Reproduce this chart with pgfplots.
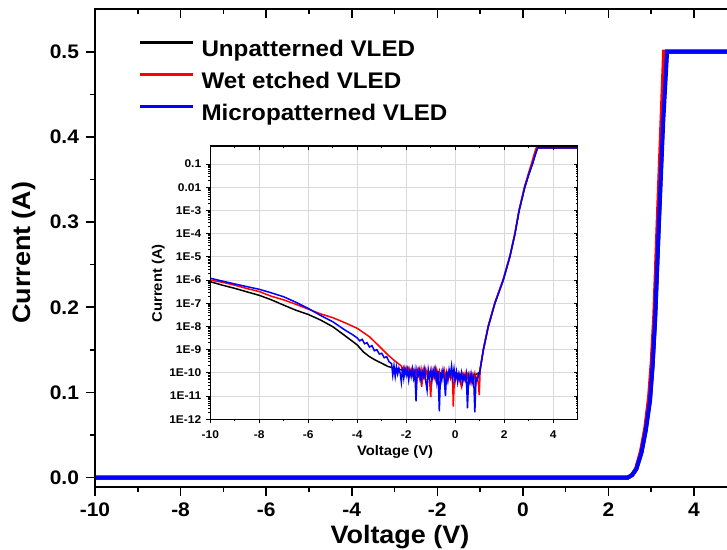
\documentclass[border=0pt]{standalone}
\usepackage{fontspec}
\setmainfont{Liberation Sans}[FakeStretch=1.07]
\usepackage{pgfplots}
\pgfplotsset{compat=1.18}
\newcommand\tickfont{\fontsize{9.8}{11}\selectfont\bfseries}
\newcommand\labfont{\fontsize{12.6}{14}\selectfont\bfseries}
\newcommand\legfont{\fontsize{11.3}{13}\selectfont\bfseries}
\newcommand\itick{\fontsize{5.6}{7}\selectfont\bfseries}
\newcommand\ilab{\fontsize{6.9}{8}\selectfont\bfseries}
\begin{document}
\begin{tikzpicture}
\useasboundingbox (-47.5pt,-31.65pt) rectangle (316pt,243.35pt);
% main I-V plot (linear)
\begin{axis}[
  scale only axis, width=317pt, height=238.7pt,
  xmin=-10, xmax=4.817, ymin=-0.0106, ymax=0.5498,
  xtick={-10,-8,-6,-4,-2,0,2,4}, minor x tick num=1,
  ytick={0,0.1,0.2,0.3,0.4,0.5}, minor y tick num=1,
  xtick pos=left, ytick pos=left, tick align=outside,
  major tick length=4.5pt, minor tick length=2.5pt,
  axis line style={line width=1pt},
  every tick/.style={line width=0.8pt, black},
  /pgf/number format/assume math mode=true,
  tick label style={font=\tickfont},
  yticklabel style={/pgf/number format/.cd, fixed, fixed zerofill, precision=1},
  xlabel={Voltage (V)}, ylabel={Current (A)},
  label style={font=\labfont},
  xlabel style={at={(axis description cs:0.481,-0.1047)}, anchor=center},
  ylabel style={at={(axis description cs:-0.1128,0.49)}, anchor=center},
  legend cell align=left,
  legend image code/.code={\draw[#1, line width=1.5pt] (0pt,4pt) -- (26.5pt,4pt);},
  legend style={at={(axis description cs:0.068,0.936)}, anchor=north west,
    draw=none, fill=none, inner sep=0pt, row sep=5.5pt,
    font=\legfont,
    nodes={inner sep=0pt, text height=8.2pt, text depth=2.3pt},
    /tikz/every odd column/.append style={column sep=3.5pt}},
]
\addplot[black, line width=2pt] coordinates {
  (-10,0) (2.45,0) (2.55,0.003) (2.65,0.01) (2.77,0.03) (2.87,0.056)
  (2.97,0.092) (3.03,0.132) (3.09,0.187) (3.18,0.302) (3.27,0.42)
  (3.36,0.5) (5,0.5)};
\addlegendentry{Unpatterned VLED}
\addplot[red, line width=2pt] coordinates {
  (-10,0) (2.45,0) (2.55,0.003) (2.65,0.011) (2.76,0.031) (2.86,0.058)
  (2.95,0.095) (3.01,0.135) (3.07,0.19) (3.15,0.30) (3.24,0.42)
  (3.30,0.5) (5,0.5)};
\addlegendentry{Wet etched VLED}
\addplot[blue, line width=2pt] coordinates {
  (-10,0) (2.45,0) (2.55,0.003) (2.65,0.01) (2.77,0.029) (2.87,0.055)
  (2.97,0.09) (3.03,0.13) (3.09,0.185) (3.18,0.30) (3.28,0.418)
  (3.37,0.5) (5,0.5)};
\addlegendentry{Micropatterned VLED}
\end{axis}
% top ticks of main plot, pointing inward
\begin{axis}[
  scale only axis, width=317pt, height=238.7pt,
  xmin=-10, xmax=4.817, ymin=-0.0106, ymax=0.5498,
  xtick={-10,-8,-6,-4,-2,0,2,4}, minor x tick num=1, ytick=\empty,
  xtick pos=right, tick align=inside, xticklabels={},
  major tick length=4.5pt, minor tick length=2.5pt,
  axis line style={line width=1pt},
  every tick/.style={line width=0.8pt, black},
]
\end{axis}
% inset (log scale)
\begin{axis}[
  at={(57.65pt,33.7pt)}, anchor=south west,
  scale only axis, width=183.7pt, height=136.65pt,
  axis background/.style={fill=white},
  xmin=-10, xmax=5, ymin=1e-12, ymax=0.6, ymode=log,
  xtick={-10,-8,-6,-4,-2,0,2,4}, minor x tick num=1,
  ytick={1e-12,1e-11,1e-10,1e-9,1e-8,1e-7,1e-6,1e-5,1e-4,1e-3,1e-2,1e-1},
  yticklabels={1E-12,1E-11,1E-10,1E-9,1E-8,1E-7,1E-6,1E-5,1E-4,1E-3,0.01,0.1},
  xtick pos=left, ytick pos=left, tick align=outside,
  major tick length=2pt, minor tick length=1pt,
  grid=major, major grid style={gray!30, line width=0.5pt},
  axis line style={line width=0.65pt},
  every tick/.style={line width=0.5pt, black},
  /pgf/number format/assume math mode=true,
  tick label style={font=\itick},
  yticklabel style={xshift=1pt},
  xlabel={Voltage (V)}, ylabel={Current (A)},
  label style={font=\ilab},
  xlabel style={at={(axis description cs:0.503,-0.1197)}, anchor=center},
  ylabel style={at={(axis description cs:-0.1415,0.4976)}, anchor=center},
]
\addplot[black, line width=0.75pt] coordinates {
  (-10,8.5e-7) (-9.5,6e-7) (-9,4.4e-7) (-8.5,3.1e-7) (-8,2.2e-7) (-7.5,1.4e-7)
  (-7,8.3e-8) (-6.5,5e-8) (-6,3.3e-8) (-5.5,1.9e-8) (-5,9.8e-9) (-4.5,4e-9)
  (-4,1.6e-9) (-3.75,8e-10) (-3.5,5e-10) (-3.25,3.5e-10) (-3,2.6e-10)
  (-2.75,1.9e-10) (-2.5,1.6e-10) (-2.25,1.4e-10) (-2,1.2e-10) (-1.8,1e-10)
  (-1.5,9e-11) (-1,1.1e-10) (-0.5,8e-11) (0,1e-10) (0.5,7e-11) (0.9,9e-11)
  (1.0,1.1e-10) (1.15,1e-9) (1.35,1e-8) (1.62,1e-7) (1.96,1e-6) (2.23,1e-5)
  (2.44,1e-4) (2.61,1e-3) (2.84,1e-2) (3.0,3.5e-2) (3.15,1e-1) (3.25,2.2e-1)
  (3.33,0.4) (3.37,0.5) (5,0.5)};
\addplot[red, line width=0.75pt] coordinates {
  (-10,1e-6) (-9.5,8e-7) (-9,6e-7) (-8.5,4.3e-7) (-8,3.2e-7) (-7.5,2e-7)
  (-7,1.4e-7) (-6.5,9e-8) (-6,5.6e-8) (-5.5,3.5e-8) (-5,2.4e-8) (-4.5,1.45e-8)
  (-4,8.3e-9) (-3.75,5.5e-9) (-3.5,3.6e-9) (-3.25,2e-9) (-3,1.1e-9)
  (-2.75,6e-10) (-2.5,3.5e-10) (-2.3,2.4e-10) (-2.2,2e-10)
  (-2.15,1.3e-10) (-2.1,1.8e-10) (-2.05,1.1e-10) (-2,1.6e-10) (-1.95,9e-11)
  (-1.9,1.5e-10) (-1.85,1e-10) (-1.8,1.4e-10) (-1.75,8e-11) (-1.7,1.3e-10)
  (-1.65,9e-11) (-1.6,1.4e-10) (-1.55,7e-11) (-1.5,1.3e-10) (-1.45,6e-11)
  (-1.4,1.2e-10) (-1.37,2.5e-11) (-1.3,1.3e-10) (-1.25,7e-11) (-1.2,1.4e-10)
  (-1.15,8e-11) (-1.1,1.3e-10) (-1.05,5e-11) (-1,9e-12) (-0.95,1.2e-10)
  (-0.9,7e-11) (-0.85,1.4e-10) (-0.8,6e-11) (-0.75,1.3e-10) (-0.7,8e-11)
  (-0.65,1.2e-10) (-0.6,5e-11) (-0.55,1.1e-10) (-0.5,7e-11) (-0.45,1.3e-10)
  (-0.4,6e-11) (-0.35,1.1e-10) (-0.3,5e-11) (-0.25,1e-10) (-0.2,6e-11)
  (-0.15,1.1e-10) (-0.1,3e-11) (-0.08,3.5e-12) (-0.03,8e-11) (0.05,1e-10)
  (0.1,6e-11) (0.15,9e-11) (0.2,4e-11) (0.26,2.5e-11) (0.3,8e-11)
  (0.35,5e-11) (0.4,9e-11) (0.45,4e-11) (0.5,8e-11) (0.55,5e-11)
  (0.6,9e-11) (0.65,4e-11) (0.7,8e-11) (0.75,5e-11) (0.8,9e-11)
  (0.85,4e-11) (0.9,7e-11) (0.95,3e-11) (0.98,1.1e-11) (1.02,1.5e-10)
  (1.15,1.1e-9) (1.35,1.1e-8) (1.62,1.1e-7) (1.96,1.1e-6) (2.23,1.1e-5)
  (2.44,1.1e-4) (2.6,1e-3) (2.82,1e-2) (2.98,3.7e-2) (3.12,1.1e-1)
  (3.21,2.4e-1) (3.28,0.42) (3.31,0.5) (5,0.5)};
\addplot[blue, line width=0.75pt] coordinates {
  (-10,1.2e-6) (-9.5,9e-7) (-9,6.8e-7) (-8.5,5.2e-7) (-8,4e-7) (-7.5,2.8e-7)
  (-7,1.9e-7) (-6.5,1.1e-7) (-6,6e-8) (-5.5,3e-8) (-5,1.6e-8) (-4.5,7e-9)
  (-4.2,4.5e-9) (-4,3.2e-9) (-3.9,2.4e-9) (-3.8,2.8e-9) (-3.7,1.8e-9)
  (-3.6,2e-9) (-3.5,1.3e-9) (-3.4,1.5e-9) (-3.3,9e-10) (-3.2,1e-9)
  (-3.1,6.5e-10) (-3,7e-10) (-2.9,4.5e-10) (-2.8,5e-10) (-2.7,3e-10)
  (-2.6,2.5e-10)
  (-2.55,8e-11) (-2.5,2e-10) (-2.45,7e-11) (-2.4,1.8e-10) (-2.35,9e-11)
  (-2.3,1.6e-10) (-2.25,1e-10) (-2.2,4e-11) (-2.15,1.7e-10) (-2.1,6e-11)
  (-2.05,1.5e-10) (-2,8e-11) (-1.95,1.4e-10) (-1.9,5e-11) (-1.85,1.3e-10)
  (-1.8,7e-11) (-1.75,1.5e-10) (-1.7,6e-11) (-1.65,1.2e-10) (-1.6,6e-12)
  (-1.55,1.3e-10) (-1.5,8e-11) (-1.45,1.4e-10) (-1.4,5e-11) (-1.35,1.2e-10)
  (-1.3,7e-11) (-1.25,1.4e-10) (-1.2,4e-11) (-1.15,1.8e-11) (-1.1,1.3e-10)
  (-1.05,6e-11) (-1,1.2e-10) (-0.95,5e-11) (-0.9,1.3e-10) (-0.85,7e-11)
  (-0.8,1.4e-10) (-0.75,4e-11) (-0.7,1.2e-10) (-0.65,2.2e-12) (-0.6,1.1e-10)
  (-0.55,5e-11) (-0.5,1.3e-10) (-0.45,6e-11) (-0.4,1e-11) (-0.35,1.2e-10)
  (-0.3,5e-11) (-0.25,1.4e-10) (-0.2,8e-11) (-0.15,2e-10) (-0.1,6e-11)
  (-0.05,1.5e-10) (0,5e-11) (0.05,1.1e-10) (0.1,4e-11) (0.15,9e-11)
  (0.2,5e-11) (0.25,1e-10) (0.3,4e-11) (0.35,8e-11) (0.4,5e-11)
  (0.45,9e-11) (0.5,3e-12) (0.55,7e-11) (0.6,4e-11) (0.65,9e-11)
  (0.7,4e-11) (0.75,7e-11) (0.8,2e-12) (0.85,6e-11) (0.9,5e-11)
  (1.0,1.1e-10) (1.15,1e-9) (1.35,1e-8) (1.62,1e-7) (1.96,1e-6) (2.23,1e-5)
  (2.44,1e-4) (2.61,1e-3) (2.84,1e-2) (3.0,3.5e-2) (3.15,1e-1) (3.25,2.2e-1)
  (3.33,0.4) (3.37,0.5) (5,0.5)};
\end{axis}
% inset: inward ticks on top and right
\begin{axis}[
  at={(57.65pt,33.7pt)}, anchor=south west,
  scale only axis, width=183.7pt, height=136.65pt,
  xmin=-10, xmax=5, ymin=1e-12, ymax=0.6, ymode=log,
  xtick={-10,-8,-6,-4,-2,0,2,4}, minor x tick num=1,
  ytick={1e-12,1e-11,1e-10,1e-9,1e-8,1e-7,1e-6,1e-5,1e-4,1e-3,1e-2,1e-1},
  xticklabels={}, yticklabels={},
  xtick pos=right, ytick pos=right, tick align=inside,
  major tick length=2pt, minor tick length=1pt,
  axis line style={line width=0.65pt},
  every tick/.style={line width=0.5pt, black},
]
\end{axis}
\end{tikzpicture}
\end{document}
